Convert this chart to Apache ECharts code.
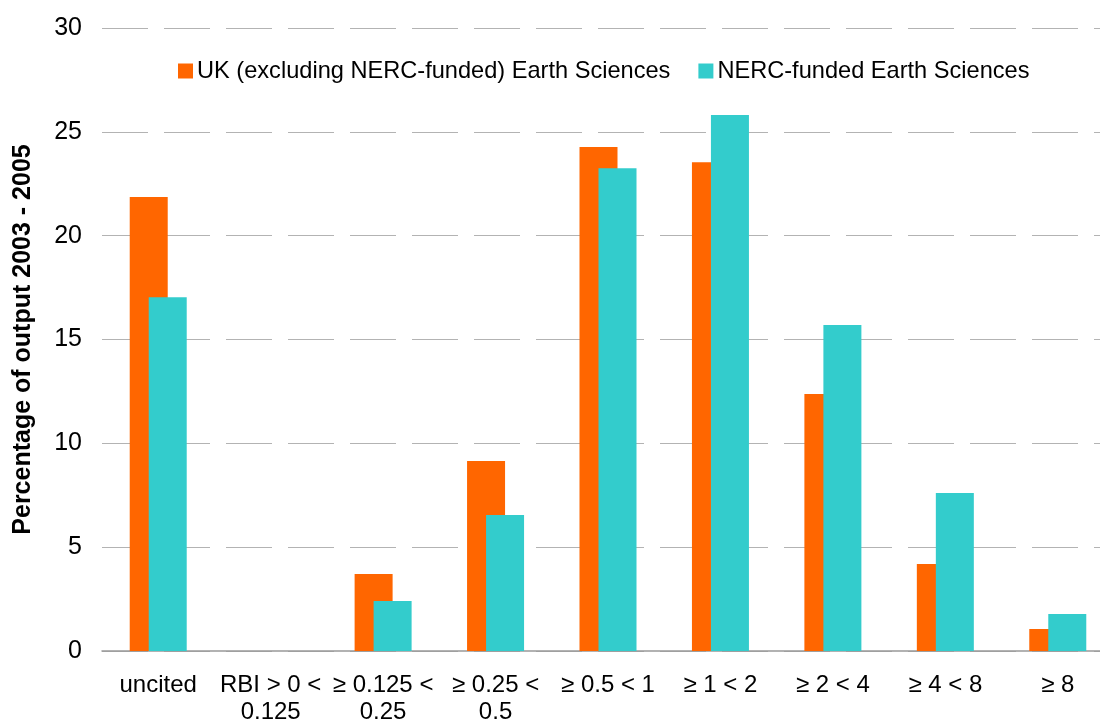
<!DOCTYPE html>
<html>
<head>
<meta charset="utf-8">
<script src="https://cdn.jsdelivr.net/npm/echarts@6/dist/echarts.min.js"></script>
<style>html,body{margin:0;padding:0;background:#fff;}#c{width:1100px;height:720px;}</style>
</head>
<body>
<div id="c"></div>
<script>
const categories = ['uncited', 'RBI > 0 <\n0.125', '≥ 0.125 <\n0.25', '≥ 0.25 <\n0.5', '≥ 0.5 < 1', '≥ 1 < 2', '≥ 2 < 4', '≥ 4 < 8', '≥ 8'];
const ukValues = [21.86, 0, 3.71, 9.15, 24.27, 23.54, 12.37, 4.19, 1.06];
const nercValues = [17.04, 0, 2.41, 6.55, 23.25, 25.81, 15.70, 7.61, 1.78];
const seriesNames = ['UK (excluding NERC-funded) Earth Sciences', 'NERC-funded Earth Sciences'];
const yAxisTitle = 'Percentage of output 2003 - 2005';

const FONT = "'Liberation Sans', Arial, sans-serif";
const chart = echarts.init(document.getElementById('c'), null, {renderer: 'canvas'});
chart.setOption({
  animation: false,
  backgroundColor: '#fff',
  textStyle: {fontFamily: FONT},
  grid: {left: 102, right: -14, top: 28, bottom: 69, containLabel: false, outerBoundsMode: 'none'},
  legend: {
    left: 178, top: 59, padding: 0,
    itemWidth: 15, itemHeight: 15, itemGap: 28,
    icon: 'rect',
    textStyle: {fontFamily: FONT, fontSize: 23.6, color: '#000', padding: [0, 0, 0, -1]},
    data: seriesNames
  },
  xAxis: {
    type: 'category',
    data: categories,
    axisLine: {show: true, lineStyle: {color: '#999', width: 1.5}},
    axisTick: {show: false},
    axisLabel: {fontFamily: FONT, fontSize: 24, color: '#000', margin: 21, lineHeight: 27, interval: 0}
  },
  yAxis: {
    type: 'value',
    min: 0, max: 30, interval: 5,
    name: yAxisTitle,
    nameLocation: 'middle',
    nameGap: 66,
    nameTextStyle: {fontFamily: FONT, fontSize: 25, fontWeight: 'bold', color: '#000'},
    axisLine: {show: false},
    axisTick: {show: false},
    axisLabel: {fontFamily: FONT, fontSize: 25, color: '#000', margin: 20},
    splitLine: {show: true, lineStyle: {color: '#b3b3b3', width: 1.2, type: [46, 16]}}
  },
  series: [
    {name: seriesNames[0], type: 'bar', data: ukValues, barWidth: 38, barGap: '-50%', itemStyle: {color: '#ff6600'}},
    {name: seriesNames[1], type: 'bar', data: nercValues, barWidth: 38, barGap: '-50%', itemStyle: {color: '#33cccc'}}
  ]
});
</script>
</body>
</html>
